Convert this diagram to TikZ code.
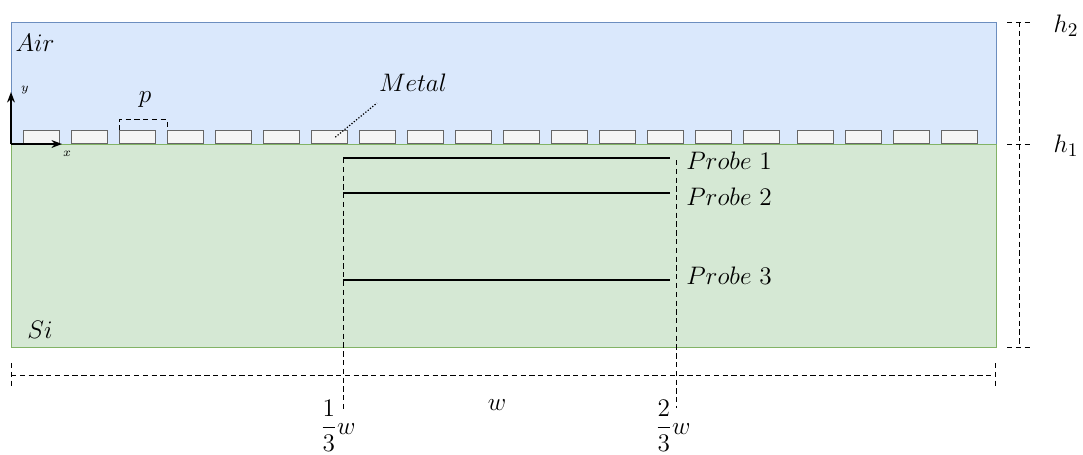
\documentclass[tikz,border=0pt]{standalone}
\usepackage{amsmath}
\usepackage{xcolor}
\usetikzlibrary{positioning, arrows.meta}

\definecolor{airfill}{HTML}{DAE8FC}
\definecolor{airline}{HTML}{6C8EBF}
\definecolor{sifill}{HTML}{D5E8D4}
\definecolor{siline}{HTML}{82B366}
\definecolor{metalfill}{HTML}{F5F5F5}
\definecolor{metalline}{HTML}{666666}

\begin{document}
\begin{tikzpicture}[
x=0.02cm, y=-0.02cm,
font=\fontsize{15}{17}\selectfont,
metal/.style={draw=metalline, fill=metalfill, minimum width=0.72cm, minimum height=0.26cm, inner sep=0pt, anchor=south west},
lbl/.style={inner sep=0pt},
dim/.style={densely dashed, line width=0.5pt},
probe/.style={line width=0.6pt},
>=Stealth
]
\useasboundingbox (0,0) rectangle (1083,454);

% layers
\draw[draw=airline, fill=airfill] (11,22) rectangle (996,144);
\draw[draw=siline, fill=sifill] (11,144) rectangle (996,347);
\node[lbl] (air) at (35,43) {$Air$};
\node[lbl] (si) at (40,330) {$Si$};

% metal grating
\foreach \i in {0,...,15} {
  \node[metal] (m\i) at ({23+48*\i},144) {};
}
\foreach \i in {16,...,19} {
  \node[metal] (m\i) at ({29+48*\i},144) {};
}

% axes
\coordinate (o) at (11,144);
\coordinate (yend) at (11,92);
\coordinate (xend) at (62,144);
\draw[-{Stealth[length=6pt]}, line width=0.8pt] (o) -- (yend);
\draw[-{Stealth[length=6pt]}, line width=0.8pt] (o) -- (xend);
\node[lbl, font=\scriptsize] (ylab) at (25,90) {$y$};
\node[lbl, font=\scriptsize] (xlab) at (67,154) {$x$};

% period
\draw[dim] (m2.north west) -- ++(0,-11) -| (m3.north west);
\node[lbl] (plab) at (145,100) {$p$};

% metal label
\node[lbl] (metallab) at (413,83) {$Metal$};
\draw[densely dotted, line width=0.7pt] ([xshift=0.12cm]m6.center) -- (377,103);

% probes
\node[lbl, anchor=west] (p1) at (686,161) {$Probe\ 1$};
\node[lbl, anchor=west] (p2) at (686,197) {$Probe\ 2$};
\node[lbl, anchor=west] (p3) at (686,276) {$Probe\ 3$};
\coordinate (s1) at (343,158);
\coordinate (s2) at (343,193);
\coordinate (s3) at (343,280);
\draw[probe] (s1) -- (670,158);
\draw[probe] (s2) -- (670,193);
\draw[probe] (s3) -- (670,280);

% width
\coordinate (wl) at (11,375);
\coordinate (wr) at (995,375);
\draw[dim] (wl) -- (wr);
\draw[dim] (11,363) -- (11,386);
\draw[dim] (995,363) -- (995,386);
\node[lbl] (wlab) at (497,405) {$w$};
\draw[dim] (s1) -- (343,412);
\draw[dim] (676,160) -- (676,408);
\node[lbl] (third1) at (338,426) {$\dfrac{1}{3}w$};
\node[lbl] (third2) at (673,426) {$\dfrac{2}{3}w$};

% heights
\draw[dim] (1019,22) -- (1019,347);
\foreach \yy in {22,144,347} {
  \draw[dim] (1007,\yy) -- (1031,\yy);
}
\node[lbl] (h2) at (1066,26) {$h_2$};
\node[lbl] (h1) at (1066,146) {$h_1$};

\end{tikzpicture}
\end{document}
